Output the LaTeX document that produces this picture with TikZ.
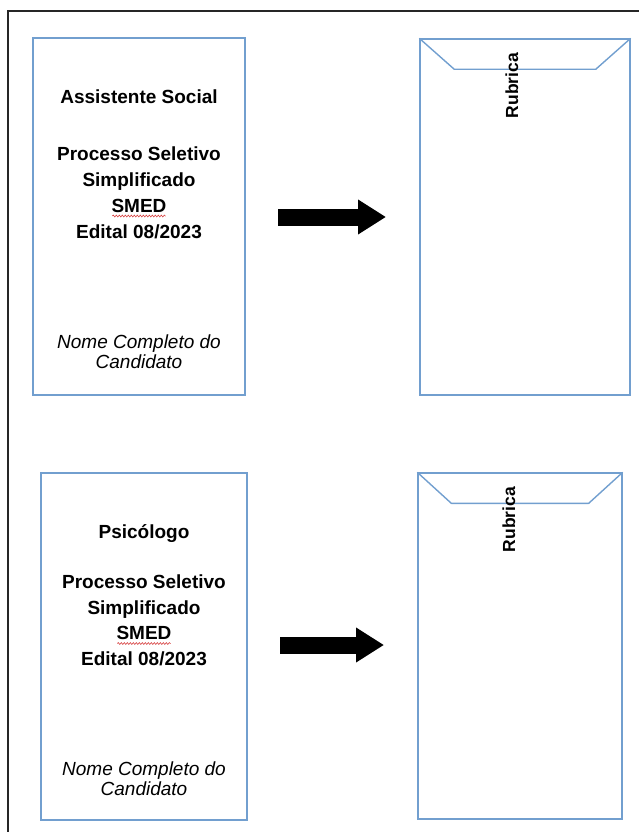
\documentclass[tikz,border=0pt]{standalone}
\usepackage{fontspec}
\setmainfont{Liberation Sans}
\usetikzlibrary{arrows.meta,calc,decorations.pathmorphing}
\definecolor{cardblue}{RGB}{114,159,207}
\definecolor{spellred}{RGB}{214,64,64}

\begin{document}
\begin{tikzpicture}[x=1pt,y=-1pt,
        cardbox/.style={draw=cardblue,line width=1.4pt,inner sep=0pt},
        cardline/.style={draw=cardblue,line width=1.4pt},
        heading/.style={font=\fontsize{19}{26}\selectfont\bfseries,inner sep=0pt,anchor=base},
        namelbl/.style={font=\fontsize{19}{20}\selectfont\itshape,inner sep=0pt,anchor=base},
        rubric/.style={font=\fontsize{17.5}{20}\selectfont\bfseries,inner sep=0pt,rotate=90,anchor=base},
        bigarrow/.style={line width=17pt,-{Triangle[length=28pt,width=33pt]}},
        spell/.style={draw=spellred,line width=0.6pt,decorate,decoration={snake,amplitude=0.9pt,segment length=3pt}}]
        \useasboundingbox (0,0) rectangle (639,832);
        % outer frame, cut off right and bottom
        \draw[line width=1.5pt,black!85] (8,832) -- (8,11) -- (639,11);

        % first row
        \node[cardbox,minimum width=212pt,minimum height=357pt] (card1) at (139,216.5) {};
        \node[heading] (tit1) at (139,103) {Assistente Social};
        \foreach \txt [count=\i] in {Processo Seletivo,Simplificado,SMED,Edital 08/2023}
            \node[heading] (blk1l\i) at (139,134+26*\i) {\txt};
        \draw[spell] ($(blk1l3.base west)+(1,4)$) -- ($(blk1l3.base east)+(-1,4)$);
        \node[namelbl] (name1a) at (139,348) {Nome Completo do};
        \node[namelbl] (name1b) at (139,368) {Candidato};

        \coordinate (arr1s) at (278,217);
        \coordinate (arr1e) at (386,217);
        \draw[bigarrow] (arr1s) -- (arr1e);

        \node[cardbox,minimum width=210pt,minimum height=356pt] (env1) at (525,217) {};
        \draw[cardline,line join=round] (env1.north west) -- ++(35,31) -- ($(env1.north east)+(-35,31)$) -- (env1.north east);
        \node[rubric] (rub1) at (518,85.5) {Rubrica};

        % second row
        \node[cardbox,minimum width=206pt,minimum height=347pt] (card2) at (144,646.5) {};
        \node[heading] (tit2) at (144,538) {Psicólogo};
        \foreach \txt [count=\i] in {Processo Seletivo,Simplificado,SMED,Edital 08/2023}
            \node[heading] (blk2l\i) at (144,563+25.5*\i) {\txt};
        \draw[spell] ($(blk2l3.base west)+(1,4)$) -- ($(blk2l3.base east)+(-1,4)$);
        \node[namelbl] (name2a) at (144,775) {Nome Completo do};
        \node[namelbl] (name2b) at (144,795) {Candidato};

        \coordinate (arr2s) at (280,645);
        \coordinate (arr2e) at (384,645);
        \draw[bigarrow] (arr2s) -- (arr2e);

        \node[cardbox,minimum width=204pt,minimum height=346pt] (env2) at (520,646) {};
        \draw[cardline,line join=round] (env2.north west) -- ++(34,31) -- ($(env2.north east)+(-34,31)$) -- (env2.north east);
        \node[rubric] (rub2) at (515,519.5) {Rubrica};
\end{tikzpicture}
\end{document}
